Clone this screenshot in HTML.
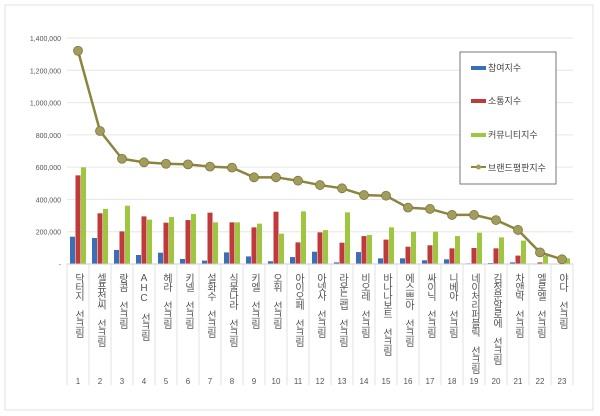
<!DOCTYPE html>
<html><head><meta charset="utf-8"><style>
body{margin:0;background:#fff;}
svg{display:block;font-family:"Liberation Sans","Noto Sans CJK KR",sans-serif;}
</style></head><body>
<svg id="c" width="600" height="416">
<rect x="5" y="5" width="588" height="405" fill="#fff" stroke="#e2e2e2"/>
<g id="grid"></g><g id="bars"></g><g id="cats"></g><g id="line"></g>
<g>
<rect x="460" y="52" width="96" height="132" fill="#fff" stroke="#777"/>
<g><rect x="471" y="66" width="15" height="4" fill="#3a6fb5"/><text x="488" y="71" font-size="9" fill="#444">참여지수</text></g>
<g><rect x="471" y="99" width="15" height="4" fill="#c0393b"/><text x="488" y="104" font-size="9" fill="#444">소통지수</text></g>
<g><rect x="471" y="133" width="15" height="4" fill="#9ec63f"/><text x="488" y="138" font-size="9" fill="#444">커뮤니티지수</text></g>
<g><line x1="471" y1="167" x2="486" y2="167" stroke="#8c8540" stroke-width="2"/><circle cx="478.5" cy="167" r="2.5" fill="#a39d5c"/><text x="488" y="171" font-size="9" fill="#444">브랜드평판지수</text></g>
</g>
</svg>
<script>
const categories=["닥터지 선크림","셀퓨전씨 선크림","랑콤 선크림","AHC 선크림","헤라 선크림","키넬 선크림","설화수 선크림","식물나라 선크림","키엘 선크림","오휘 선크림","아이오페 선크림","아넷사 선크림","라운드랩 선크림","비오레 선크림","바나나보트 선크림","에스쁘아 선크림","싸이닉 선크림","니베아 선크림","네이처리퍼블릭 선크림","김정문알로에 선크림","차앤박 선크림","엘로엘 선크림","야다 선크림"];
const participation=[169000,161000,87000,56000,70000,31000,21000,72000,47000,17000,43000,76000,10000,74000,35000,35000,23000,29000,4000,6000,10000,2000,0];
const communication=[549000,314000,202000,295000,256000,272000,318000,258000,227000,324000,134000,196000,132000,173000,151000,107000,116000,97000,99000,97000,52000,10000,2000];
const community=[599000,341000,361000,275000,291000,310000,258000,258000,250000,188000,326000,210000,320000,180000,227000,200000,200000,173000,194000,165000,145000,52000,35000];
const brand=[1321000,824000,652000,630000,621000,617000,603000,597000,537000,537000,516000,489000,469000,427000,423000,349000,341000,304000,304000,272000,211000,72000,29000];
const yTicks=[0,200000,400000,600000,800000,1000000,1200000,1400000];
const NS="http://www.w3.org/2000/svg";
const X0=67,BW=22,Y0=264,YT=38,YMAX=1400000;
const y=v=>Y0-(v/YMAX)*(Y0-YT);
const cx=i=>X0+BW*(i+0.5);
function mk(t,a,p){const e=document.createElementNS(NS,t);for(const k in a)e.setAttribute(k,a[k]);p.appendChild(e);return e;}
const grid=document.getElementById('grid');
yTicks.forEach(v=>{
 if(v>0){const l=mk('line',{x1:X0,x2:X0+BW*categories.length,y1:y(v),y2:y(v),stroke:'#e6e6e6'},grid);
 
 }
 const t=mk('text',{x:61,y:y(v)+3,'font-size':7,'text-anchor':'end',fill:'#555'},grid);
 t.textContent=v===0?'-':v.toLocaleString('en-US');
 
 
});
const bars=document.getElementById('bars');
const series=[[participation,'#3a6fb5'],[communication,'#c0393b'],[community,'#9ec63f']];
categories.forEach((c,i)=>{
 series.forEach(([arr,col],s)=>{
  const x=cx(i)-8+s*5.5;
  const r=mk('rect',{x:x,y:y(arr[i]),width:5,height:Y0-y(arr[i]),fill:col},bars);
  
  
 });
});
const cats=document.getElementById('cats');
mk('line',{x1:X0,x2:X0+BW*categories.length,y1:Y0,y2:Y0,stroke:'#ccc'},cats);
categories.forEach((c,i)=>{
 const sx=X0+BW*i;
 mk('line',{x1:sx,x2:sx,y1:Y0,y2:385,stroke:'#e0e0e0'},cats);
 if(i===categories.length-1)mk('line',{x1:sx+BW,x2:sx+BW,y1:Y0,y2:385,stroke:'#e0e0e0'},cats);
 const t=mk('text',{x:cx(i),y:273,'font-size':10,fill:'#555','writing-mode':'vertical-rl',style:'text-orientation:upright;letter-spacing:-1px'},cats);
 t.textContent=c;
 
 
 const n=mk('text',{x:cx(i),y:384,'font-size':8,fill:'#555','text-anchor':'middle'},cats);
 n.textContent=String(i+1);
 
 
});
const line=document.getElementById('line');
const pl=mk('polyline',{points:brand.map((v,i)=>cx(i)+','+y(v)).join(' '),fill:'none',stroke:'#8c8540','stroke-width':2.5},line);


brand.forEach((v,i)=>{
 const p=mk('circle',{cx:cx(i),cy:y(v),r:4.5,fill:'#a39d5c',stroke:'#7d7640','stroke-width':0.8},line);
 
 
});
</script>
</body></html>
